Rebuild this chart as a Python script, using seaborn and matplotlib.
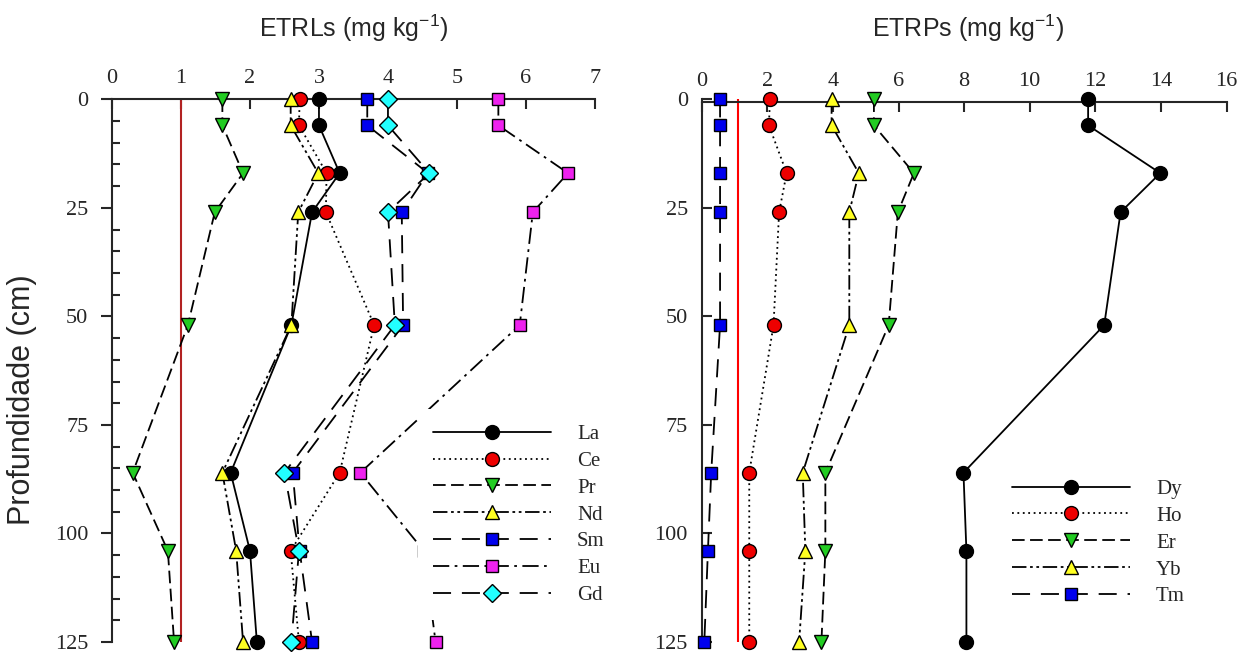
import seaborn as sns
import matplotlib.pyplot as plt
from matplotlib.ticker import MultipleLocator

depth = [0, 6, 17, 26, 52, 86, 104, 125]

# ETRLs (mg/kg)
La = [3.00, 3.00, 3.30, 2.90, 2.60, 1.72, 2.00, 2.10]
Ce = [2.72, 2.71, 3.11, 3.10, 3.80, 3.30, 2.59, 2.71]
Pr = [1.60, 1.60, 1.90, 1.49, 1.10, 0.30, 0.81, 0.90]
Nd = [2.59, 2.59, 2.99, 2.70, 2.60, 1.60, 1.80, 1.90]
Sm = [3.70, 3.70, 4.58, 4.20, 4.22, 2.62, 2.72, 2.90]
Eu = [5.60, 5.60, 6.61, 6.10, 5.91, 3.60, 4.52, 4.69]
Gd = [4.00, 4.00, 4.60, 4.00, 4.10, 2.50, 2.71, 2.60]

# ETRPs (mg/kg)
Dy = [11.78, 11.78, 13.98, 12.77, 12.27, 7.98, 8.07, 8.07]
Ho = [2.08, 2.05, 2.59, 2.36, 2.19, 1.45, 1.45, 1.45]
Er = [5.25, 5.25, 6.47, 5.98, 5.70, 3.77, 3.77, 3.65]
Yb = [3.96, 3.96, 4.79, 4.50, 4.50, 3.08, 3.16, 2.97]
Tm = [0.56, 0.56, 0.56, 0.56, 0.56, 0.29, 0.19, 0.08]

sns.set_style('ticks')
plt.rcParams['font.family'] = ['Liberation Serif', 'DejaVu Serif']
plt.rcParams['mathtext.default'] = 'regular'

solid = '-'
dotted = (0, (1, 2))
dashed = (0, (7, 3))
dashdotdot = (0, (8, 2, 1.5, 2, 1.5, 2))
longdash = (0, (10, 6))
dashdot = (0, (9, 3, 1.5, 3))

light = [('La', La, solid, 'o', 'black'),
         ('Ce', Ce, dotted, 'o', '#ee0000'),
         ('Pr', Pr, dashed, 'v', '#22cc22'),
         ('Nd', Nd, dashdotdot, '^', '#ffff22'),
         ('Sm', Sm, longdash, 's', '#0000ee'),
         ('Eu', Eu, dashdot, 's', '#ee22ee'),
         ('Gd', Gd, longdash, 'D', '#22ffff')]

heavy = [('Dy', Dy, solid, 'o', 'black'),
         ('Ho', Ho, dotted, 'o', '#ee0000'),
         ('Er', Er, dashed, 'v', '#22cc22'),
         ('Yb', Yb, dashdotdot, '^', '#ffff22'),
         ('Tm', Tm, longdash, 's', '#0000ee')]


def draw_profile(ax, series, ref_x, ref_color):
    ax.axvline(ref_x, color=ref_color, lw=1.5, zorder=1)
    handles = []
    for name, vals, ls, mk, fc in series:
        ms = 9 if mk in ('D', 's') else 10
        sns.lineplot(x=vals, y=depth, sort=False, estimator=None, ax=ax,
                     color='black', linestyle=ls, lw=1.3, marker=mk,
                     markersize=ms, markerfacecolor=fc,
                     markeredgecolor='black', markeredgewidth=1,
                     clip_on=False, zorder=3)
        line = ax.lines[-1]
        line.set_label(name)
        handles.append(line)
    ax.set_ylim(125, 0)
    ax.xaxis.tick_top()
    ax.xaxis.set_label_position('top')
    ax.set_xlabel('')
    ax.set_ylabel('')
    for s in ['bottom', 'right']:
        ax.spines[s].set_visible(False)
    for s in ['top', 'left']:
        ax.spines[s].set_linewidth(1.5)
    ax.set_yticks([0, 25, 50, 75, 100, 125])
    ax.tick_params(axis='x', direction='in', length=7, width=1.5,
                   labelsize=16, pad=8)
    ax.tick_params(axis='y', labelsize=16, width=1.5)
    return handles


fig = plt.figure(figsize=(12.47, 6.56), dpi=100)
ax1 = fig.add_axes([0.0898, 0.0213, 0.3873, 0.8273])
ax2 = fig.add_axes([0.5627, 0.0213, 0.4209, 0.8273])

h1 = draw_profile(ax1, light, 1.0, '#b22222')
ax1.set_xlim(0, 7)
ax1.set_xticks(range(0, 8))
ax1.yaxis.set_minor_locator(MultipleLocator(5))
ax1.tick_params(axis='y', which='major', direction='out', length=8, pad=9)
ax1.tick_params(axis='y', which='minor', direction='in', length=6, width=1.5)

h2 = draw_profile(ax2, heavy, 1.1, 'red')
ax2.set_xlim(0, 16)
ax2.set_xticks(range(0, 17, 2))
ax2.spines['top'].set_position(('data', 0.7))
ax2.tick_params(axis='y', which='major', direction='in', length=7, pad=10)

leg_kw = dict(fontsize=15, handlelength=5.66, handletextpad=1.25,
              labelspacing=0.35, borderpad=0.72, borderaxespad=0,
              frameon=True, facecolor='white', edgecolor='none',
              framealpha=1, fancybox=False, loc='upper left',
              bbox_transform=fig.transFigure)
leg1 = ax1.legend(handles=h1, bbox_to_anchor=(0.3352, 0.376), **leg_kw)
leg1.set_zorder(10)
leg2 = ax2.legend(handles=h2, bbox_to_anchor=(0.7995, 0.2922), **leg_kw)

sans = ['Liberation Sans', 'DejaVu Sans']
fig.text(0.2839, 0.957, 'ETRLs (mg kg$^{-1}$)', ha='center', va='center',
         fontsize=18, family=sans)
fig.text(0.7763, 0.957, 'ETRPs (mg kg$^{-1}$)', ha='center', va='center',
         fontsize=18, family=sans)
fig.text(0.0176, 0.39, 'Profundidade (cm)', ha='center', va='center',
         rotation=90, fontsize=22, family=sans)

fig.savefig('out.png', dpi=100)
